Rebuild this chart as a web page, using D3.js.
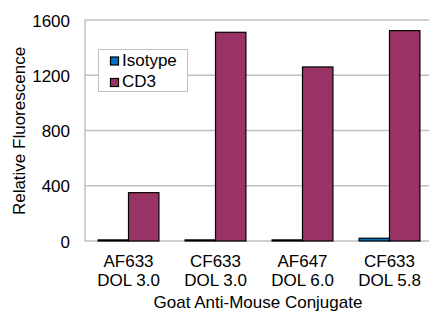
<!DOCTYPE html>
<html><head><meta charset="utf-8">
<script src="https://cdn.jsdelivr.net/npm/d3@7"></script>
<style>
html,body{margin:0;padding:0;background:#fff;}
svg{display:block;}
svg text{font-family:"Liberation Sans",Arial,sans-serif;fill:#000;}
</style></head>
<body>
<svg id="c" width="429" height="313"></svg>
<script>
const categories = [["AF633","DOL 3.0"],["CF633","DOL 3.0"],["AF647","DOL 6.0"],["CF633","DOL 5.8"]];
const seriesNames = ["Isotype","CD3"];
const isotype = [8, 8, 8, 20];
const cd3 = [350, 1511, 1260, 1523];
const yTicks = [0, 400, 800, 1200, 1600];
const colors = ["#0070c0", "#993366"];

const FS = 17;
const svg = d3.select("#c");
const L = 85, R = 433, T = 20, B = 241;
const x = d3.scaleBand().domain(d3.range(categories.length)).range([L, R]).paddingInner(0).paddingOuter(0);
const xs = d3.scaleBand().domain(seriesNames).range([0, x.bandwidth()]).paddingInner(0).paddingOuter(0.43);
const y = d3.scaleLinear().domain([0, 1600]).range([B, T]);

// gridlines
svg.append("g").selectAll("line").data(yTicks).join("line")
  .attr("x1", L).attr("x2", 429).attr("y1", d => y(d)).attr("y2", d => y(d))
  .attr("stroke", "#c0c0c0").attr("stroke-width", 1.5);
// left axis line
svg.append("line").attr("x1", L).attr("x2", L).attr("y1", T).attr("y2", B)
  .attr("stroke", "#c0c0c0").attr("stroke-width", 1.5);

// y axis labels
const yAxis = d3.axisLeft(y).tickValues(yTicks).tickSize(0).tickPadding(15).tickFormat(d3.format("d"));
const ga = svg.append("g").attr("transform", `translate(${L},0)`).call(yAxis)
  .attr("font-family", null).attr("font-size", null);
ga.select(".domain").remove();
ga.selectAll("text").attr("font-size", FS).attr("dy", "0.36em");

// bars
const data = [isotype, cd3];
data.forEach((vals, si) => {
  svg.append("g").selectAll("rect").data(vals).join("rect")
    .attr("x", (d, i) => x(i) + xs(seriesNames[si]))
    .attr("width", xs.bandwidth())
    .attr("y", d => y(d))
    .attr("height", d => y(0) - y(d))
    .attr("fill", colors[si]).attr("stroke", "#000").attr("stroke-width", 1.2);
});

// x labels
const xl = svg.append("g");
categories.forEach((c, i) => {
  const cx = x(i) + x.bandwidth() / 2;
  xl.append("text").attr("x", cx).attr("y", 267).attr("text-anchor", "middle").attr("font-size", FS).text(c[0]);
  xl.append("text").attr("x", cx).attr("y", 286).attr("text-anchor", "middle").attr("font-size", FS).text(c[1]);
});

// axis titles
svg.append("text").attr("x", 258).attr("y", 308).attr("text-anchor", "middle").attr("font-size", FS).text("Goat Anti-Mouse Conjugate");
svg.append("text").attr("transform", "translate(25,131) rotate(-90)").attr("text-anchor", "middle").attr("font-size", FS).text("Relative Fluorescence");

// legend
const lg = svg.append("g");
lg.append("rect").attr("x", 98.5).attr("y", 49.5).attr("width", 89).attr("height", 42)
  .attr("fill", "#fff").attr("stroke", "#c0c0c0").attr("stroke-width", 1);
seriesNames.forEach((n, i) => {
  const base = 65.5 + i * 21.5;
  lg.append("rect").attr("x", 110.5).attr("y", base - 8.5).attr("width", 8).attr("height", 8)
    .attr("fill", colors[i]).attr("stroke", "#000").attr("stroke-width", 1.2);
  lg.append("text").attr("x", 122).attr("y", base).attr("font-size", FS).text(n);
});
</script>
</body></html>
